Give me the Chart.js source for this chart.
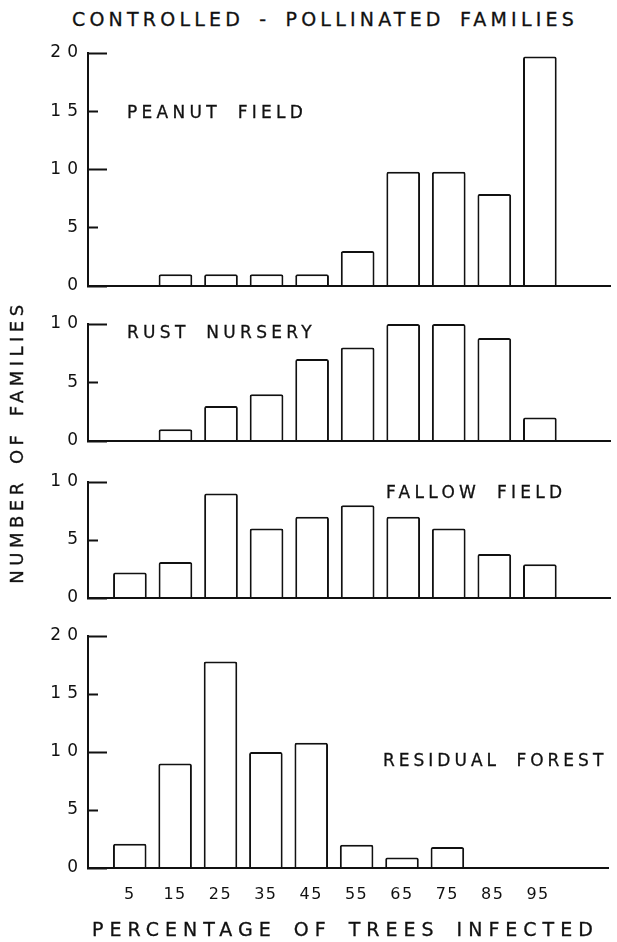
<!DOCTYPE html>
<html lang="en">
<head>
  <meta charset="UTF-8">
  <title>Controlled-Pollinated Families</title>
  <script src="https://cdn.jsdelivr.net/npm/chart.js"></script>
  <style>
    body {
      margin: 0;
      background: #fff;
    }
    #page {
      position: relative;
      width: 617px;
      height: 942px;
      overflow: hidden;
      font-family: 'DejaVu Sans', sans-serif;
      color: #111;
    }
    canvas {
      position: absolute;
      left: 0;
    }
    .txt {
      position: absolute;
      white-space: nowrap;
      line-height: 1;
      z-index: 2;
      -webkit-text-stroke: 0.3px #111;
    }
    .label {
      font-size: 17px;
      letter-spacing: 4.3px;
      word-spacing: 7px;
    }
  </style>
</head>
<body>
  <div id="page">
    <div class="txt" style="left:72px; top:10px; font-size:19px; letter-spacing:4.2px; word-spacing:5px;">CONTROLLED - POLLINATED FAMILIES</div>

    <canvas id="peanutChart" width="617" height="260" style="top:40px"></canvas>
    <canvas id="rustChart" width="617" height="150" style="top:305px"></canvas>
    <canvas id="fallowChart" width="617" height="147" style="top:465px"></canvas>
    <canvas id="forestChart" width="617" height="322" style="top:620px"></canvas>

    <div class="txt label" style="left:127px; top:104px;">PEANUT FIELD</div>
    <div class="txt label" style="left:127px; top:324px;">RUST NURSERY</div>
    <div class="txt label" style="left:386px; top:484px;">FALLOW FIELD</div>
    <div class="txt label" style="left:383px; top:752px; letter-spacing:4px;">RESIDUAL FOREST</div>

    <div class="txt" style="left:-183px; top:433px; width:400px; text-align:center; font-size:18px; letter-spacing:4.5px; word-spacing:4px; transform:rotate(-90deg);">NUMBER OF FAMILIES</div>
    <div class="txt" style="left:92px; top:920px; font-size:19px; letter-spacing:6px; word-spacing:5px;">PERCENTAGE OF TREES INFECTED</div>
  </div>

  <script>
    // percentage of trees infected (class midpoints)
    const percentInfected = [5, 15, 25, 35, 45, 55, 65, 75, 85, 95];

    // number of families in each class, per planting site
    const peanutField = [0, 1, 1, 1, 1, 3, 9.8, 9.8, 7.9, 19.7];
    const rustNursery = [0, 1, 3, 4, 7, 8, 10, 10, 8.8, 2];
    const fallowField = [2.2, 3.1, 9, 6, 7, 8, 7, 6, 3.8, 2.9];
    const residualForest = [2.1, 9, 17.8, 10, 10.8, 2, 0.9, 1.8, 0, 0];

    // wide lettering for the y tick labels, tighter for the x ones
    // (x labels are drawn after the datasets, see ticks.z below)
    const tickSpacing = {
      id: 'tickSpacing',
      beforeDraw(chart) { chart.ctx.letterSpacing = '6px'; },
      beforeDatasetsDraw(chart) { chart.ctx.letterSpacing = '1.5px'; }
    };

    const ink = '#111';

    function isMajor(ctx) {
      return ctx.tick && ctx.tick.value % 10 === 0;
    }

    function drawPanel(id, values, yMax, padding, showXTicks) {
      const ctx = document.getElementById(id).getContext('2d');
      return new Chart(ctx, {
        type: 'bar',
        data: {
          datasets: [{
            data: percentInfected.map((x, i) => ({ x: x, y: values[i] })),
            backgroundColor: '#fff',
            borderColor: ink,
            borderWidth: 2,
            borderRadius: 2,
            borderSkipped: 'start',
            categoryPercentage: 1,
            barPercentage: 0.74
          }]
        },
        options: {
          responsive: false,
          animation: false,
          layout: { padding: padding },
          plugins: {
            legend: { display: false },
            tooltip: { enabled: false }
          },
          scales: {
            x: {
              type: 'linear',
              min: -4.2,
              max: 110.4,
              offset: false,
              grid: { display: false },
              border: { display: true, color: ink, width: 2, z: 1 },
              afterBuildTicks: s => { s.ticks = percentInfected.map(v => ({ value: v })); },
              afterFit: s => { s.height = showXTicks ? 40 : 0; },
              ticks: {
                display: showXTicks,
                z: 1,
                padding: 9,
                autoSkip: false,
                maxRotation: 0,
                color: ink,
                font: { family: 'DejaVu Sans', size: 16 }
              }
            },
            y: {
              min: 0,
              max: yMax,
              afterFit: s => {
                s.width = 88;
                // label padding would otherwise push the plot inward
                s.paddingTop = 0;
                s.paddingBottom = 0;
              },
              border: { display: true, color: ink, width: 2 },
              grid: {
                drawOnChartArea: false,
                drawTicks: true,
                tickLength: -19,   // ticks point into the plot
                tickWidth: 2,
                tickColor: ink,
                // the 5s get a shorter mark than the 10s
                tickBorderDash: c => isMajor(c) ? [] : [11, 100],
                tickBorderDashOffset: c => isMajor(c) ? 0 : 102
              },
              ticks: {
                stepSize: 5,
                padding: 23,
                color: ink,
                font: { family: 'DejaVu Sans', size: 17 }
              }
            }
          }
        },
        plugins: [tickSpacing]
      });
    }

    drawPanel('peanutChart', peanutField, 20, { top: 13, bottom: 14, left: 0, right: 7 }, false);
    drawPanel('rustChart', rustNursery, 10, { top: 19, bottom: 14, left: 0, right: 7 }, false);
    drawPanel('fallowChart', fallowField, 10, { top: 17, bottom: 14, left: 0, right: 7 }, false);
    drawPanel('forestChart', residualForest, 20, { top: 16, bottom: 34, left: 0, right: 9 }, true);
  </script>
</body>
</html>
